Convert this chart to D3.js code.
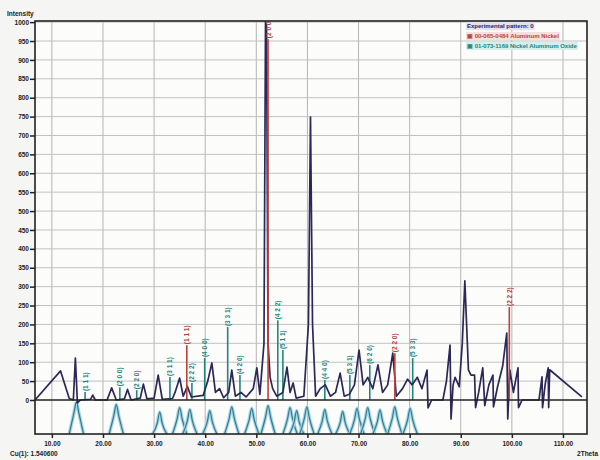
<!DOCTYPE html>
<html>
<head>
<meta charset="utf-8">
<script src="https://cdn.jsdelivr.net/npm/d3@7/dist/d3.min.js"></script>
<style>
  body { margin: 0; background: #f5f5f3; }
  svg { font-family: "Liberation Sans", Arial, sans-serif; }
</style>
</head>
<body>
<div id="chart"></div>
<script>
// experimental pattern, 2theta (deg) / counts
var expTheta = [6.7, 11.7, 13.4, 14.2, 14.6, 15.0, 15.6, 17.6, 18.0, 18.5, 20.8, 21.7, 22.6, 24.2, 24.8, 25.5,
  27.3, 27.9, 28.6, 30.0, 30.8, 31.6, 33.6, 34.1, 35.0, 35.7, 36.5, 37.3, 39.6, 40.5, 41.3, 42.0, 42.8, 43.6,
  44.6, 45.2, 45.9, 47.0, 48.0, 49.4, 50.1, 50.7, 51.5, 51.8, 52.0, 52.3, 52.7, 53.2, 54.0, 55.2, 56.0, 56.6,
  57.2, 57.8, 59.3, 60.2, 60.6, 61.0, 61.6, 62.5, 63.5, 64.5, 65.5, 66.4, 67.2, 68.2, 69.2, 70.1, 70.9, 71.8,
  72.8, 73.8, 74.7, 75.7, 76.7, 77.4, 78.6, 79.6, 80.5, 81.5, 82.4, 83.4, 83.6, 84.3, 86.5, 87.2, 87.9, 88.1,
  88.5, 88.9, 89.7, 90.3, 90.8, 91.5, 92.0, 92.7, 92.9, 93.5, 94.3, 94.7, 95.5, 96.3, 96.4, 97.2, 98.2, 99.0,
  99.2, 99.6, 100.3, 101.2, 101.3, 102.0, 105.3, 105.9, 106.0, 106.5, 107.1, 107.2, 107.4, 113.7]
var expCounts = [0, 77, 4, 0, 111, -8, 0, 2, 13, 0, 0, 32, 0, 3, 28, 0,
  5, 42, 3, 5, 66, 2, 4, 20, 58, 10, 36, 8, 12, 50, 98, 20, 30, 6,
  20, 79, 10, 20, 8, 30, 85, 15, 150, 1000, 990, 150, 60, 30, 10, 20, 87, 20,
  45, 5, 10, 200, 749, 200, 10, 30, 40, 10, 20, 71, 10, 15, 40, 132, 40, 60,
  30, 93, 20, 40, 124, 10, 30, 55, 40, 60, 30, 79, -21, 0, 0, 50, 145, -50,
  40, 60, 35, 150, 315, 80, 66, 66, -20, 20, 85, -15, 40, 66, -18, 35, 90, 177,
  -50, 80, 20, 85, -20, 0, 0, 61, -20, 40, 85, -20, 80, 8]

// reference 1: Aluminum Nickel (red sticks)
var redPos = [36.4, 52.3, 77.1, 99.5]
var redInt = [145, 955, 124, 246]
var redHkl = ['(1 1 1)', '(2 0 0)', '(2 2 0)', '(2 2 2)']

// reference 2: Nickel Aluminum Oxide (teal sticks)
var tealPos = [16.5, 23.3, 26.6, 33.1, 37.4, 39.9, 44.4, 46.8, 54.2, 55.2, 63.4, 68.3, 72.2, 80.6]
var tealInt = [21, 34, 26, 61, 45, 111, 193, 66, 211, 132, 53, 66, 93, 111]
var tealHkl = ['(1 1 1)', '(2 0 0)', '(2 2 0)', '(3 1 1)', '(2 2 2)', '(4 0 0)', '(3 3 1)', '(4 2 0)',
  '(4 2 2)', '(5 1 1)', '(4 4 0)', '(5 3 1)', '(6 2 0)', '(5 3 3)']

// inverted profile drawn under the zero line
var lowerPos = [14.8, 22.6, 31.1, 35.0, 37.0, 40.9, 45.2, 49.1, 52.3, 56.6, 57.9, 59.9, 63.4, 66.9, 69.7, 71.8, 74.2, 77.1, 80.1]
var lowerDepth = [-5, -12, -32, -20, -25, -28, -18, -22, -15, -20, -28, -18, -25, -30, -22, -20, -26, -18, -22]

var xTicks = [10, 20, 30, 40, 50, 60, 70, 80, 90, 100, 110]
var yTicks = d3.range(0, 1001, 50)
var legendLabels = ['Experimental pattern: 0', '\u25a3 00-065-0484 Aluminum Nickel', '\u25a3 01-073-1169 Nickel Aluminum Oxide']

var navy = '#2b2858', red = '#b8443f', teal = '#23867e'

var svg = d3.select('#chart').append('svg')
  .attr('width', 600)
  .attr('height', 460)

var x = d3.scaleLinear().domain([6.7, 114.7]).range([35, 587])
var y = d3.scaleLinear().domain([-90, 1003]).range([434, 21])

svg.append('defs').append('clipPath').attr('id', 'plot')
  .append('rect')
  .attr('x', x.range()[0]).attr('y', y.range()[1])
  .attr('width', x.range()[1] - x.range()[0])
  .attr('height', y.range()[0] - y.range()[1])

svg.append('rect')
  .attr('x', x.range()[0]).attr('y', y.range()[1])
  .attr('width', x.range()[1] - x.range()[0])
  .attr('height', y.range()[0] - y.range()[1])
  .attr('fill', '#fcfcfb')

// grid
svg.append('g').selectAll('line').data(xTicks).enter().append('line')
  .attr('x1', function (d) { return x(d) }).attr('x2', function (d) { return x(d) })
  .attr('y1', y.range()[1]).attr('y2', y.range()[0])
  .attr('stroke', '#b5b5b5').attr('stroke-width', 1)
svg.append('g').selectAll('line').data(yTicks.slice(1)).enter().append('line')
  .attr('x1', x.range()[0]).attr('x2', x.range()[1])
  .attr('y1', function (d) { return y(d) }).attr('y2', function (d) { return y(d) })
  .attr('stroke', '#c2c2c2').attr('stroke-width', 1)

var plot = svg.append('g').attr('clip-path', 'url(#plot)')

// lower profile
var lowerLine = d3.line()
  .x(function (d) { return x(d[0]) })
  .y(function (d) { return y(d[1]) })
  .curve(d3.curveMonotoneX)
lowerPos.forEach(function (p, i) {
  var dep = lowerDepth[i], w = 1.4
  var pts = [[p - w, -90], [p - w * 0.35, dep - 30], [p, dep], [p + w * 0.35, dep - 30], [p + w, -90]]
  plot.append('path').attr('d', lowerLine(pts))
    .attr('fill', 'none').attr('stroke', '#a8d4e4').attr('stroke-width', 3.5)
  plot.append('path').attr('d', lowerLine(pts))
    .attr('fill', 'none').attr('stroke', '#2f7f92').attr('stroke-width', 1.2)
})

// reference sticks + hkl labels
function drawSticks (pos, ints, hkl, color) {
  var g = plot.append('g')
  g.selectAll('line').data(pos).enter().append('line')
    .attr('x1', function (d) { return x(d) }).attr('x2', function (d) { return x(d) })
    .attr('y1', y(0))
    .attr('y2', function (d, i) { return y(ints[i]) })
    .attr('stroke', color).attr('stroke-width', 1.6)
  g.selectAll('text').data(pos).enter().append('text')
    .attr('transform', function (d, i) {
      return 'translate(' + (x(d) + 2.5) + ',' + (y(ints[i]) - 1) + ') rotate(-90)'
    })
    .attr('font-size', 6.5).attr('font-weight', 'bold')
    .attr('fill', color)
    .text(function (d, i) { return hkl[i] })
}
drawSticks(tealPos, tealInt, tealHkl, teal)

// experimental pattern
var expLine = d3.line()
  .x(function (d, i) { return x(expTheta[i]) })
  .y(function (d) { return y(d) })
plot.append('path').attr('d', expLine(expCounts))
  .attr('fill', 'none').attr('stroke', navy).attr('stroke-width', 1.7)
  .attr('stroke-linejoin', 'round')

drawSticks(redPos, redInt, redHkl, red)

// zero line + frame
svg.append('line')
  .attr('x1', x.range()[0]).attr('x2', x.range()[1])
  .attr('y1', y(0)).attr('y2', y(0))
  .attr('stroke', '#222').attr('stroke-width', 1.5)
svg.append('rect')
  .attr('x', x.range()[0]).attr('y', y.range()[1])
  .attr('width', x.range()[1] - x.range()[0])
  .attr('height', y.range()[0] - y.range()[1])
  .attr('fill', 'none').attr('stroke', '#222').attr('stroke-width', 1.6)

// axes
var yAxis = d3.axisLeft(y).tickValues(yTicks).tickSize(5).tickPadding(1).tickFormat(d3.format('d'))
var xAxis = d3.axisBottom(x).tickValues(xTicks).tickSize(4).tickPadding(3).tickFormat(d3.format('.2f'))
svg.append('g').attr('transform', 'translate(' + x.range()[0] + ',0)').call(customAxis, yAxis)
svg.append('g').attr('transform', 'translate(0,' + y.range()[0] + ')').call(customAxis, xAxis)

function customAxis (g, axis) {
  g.call(axis)
  g.select('.domain').remove()
  g.selectAll('.tick line').attr('stroke', '#222').attr('stroke-width', 1.5)
  g.selectAll('.tick text')
    .attr('font-size', 6.5).attr('font-weight', 'bold').attr('fill', '#222')
    .attr('font-family', '"Liberation Sans", Arial, sans-serif')
}

svg.append('text').attr('x', 7).attr('y', 16)
  .attr('font-size', 6.5).attr('font-weight', 'bold').attr('fill', '#222')
  .text('Intensity')
svg.append('text').attr('x', 598).attr('y', 456).attr('text-anchor', 'end')
  .attr('font-size', 6.5).attr('font-weight', 'bold').attr('fill', '#222')
  .text('2Theta')
svg.append('text').attr('x', 10).attr('y', 456)
  .attr('font-size', 6.5).attr('font-weight', 'bold').attr('fill', '#222')
  .text('Cu(1): 1.540600')

// legend
var legendFill = ['#e4e0f0', '#f6e0de', '#d6eeec']
var legendColor = [navy, red, teal]
var lg = svg.append('g').attr('transform', 'translate(466,21)')
legendLabels.forEach(function (t, i) {
  var txt = lg.append('text').attr('x', 1).attr('y', 7 + i * 10)
    .attr('font-size', 6).attr('font-weight', 'bold').attr('fill', legendColor[i])
    .text(t)
  var w = txt.node().getComputedTextLength()
  lg.insert('rect', 'text').attr('x', 0).attr('y', i * 10 + 1)
    .attr('width', w + 2).attr('height', 8).attr('fill', legendFill[i])
})
</script>
</body>
</html>
